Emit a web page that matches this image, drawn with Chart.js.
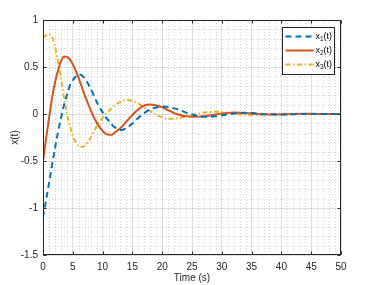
<!DOCTYPE html>
<html><head><meta charset="utf-8">
<script src="https://cdn.jsdelivr.net/npm/chart.js@4/dist/chart.umd.min.js"></script>
<style>html,body{margin:0;padding:0;background:#fff;}#wrap{position:relative;width:373px;height:285px;}</style>
</head><body><div id="wrap"><canvas id="c" width="373" height="285"></canvas></div>
<script>
// ---- data ----
const time = [0,0.5,1,1.5,2,2.5,3,3.5,4,4.5,5,5.5,6,6.5,7,7.5,8,8.5,9,9.5,10,10.5,11,11.5,12,
  13,14,15,16,17,18,19,20,21,22,23,24,25,26,27,28,29,30,31,32,33,34,35,36,37,38,39,40,42,44,46,48,50];
const x1 = [-1.10,-0.92,-0.74,-0.55,-0.37,-0.20,-0.05,0.09,0.20,0.30,0.36,0.40,0.42,0.41,0.38,0.33,0.27,0.20,0.13,0.07,0.02,-0.03,-0.07,-0.11,-0.14,
  -0.17,-0.15,-0.10,-0.04,0.01,0.05,0.07,0.08,0.075,0.06,0.04,0.015,-0.005,-0.02,-0.03,-0.03,-0.025,-0.015,-0.005,0.005,0.01,0.012,0.01,0.005,0.0,-0.003,-0.005,-0.005,-0.003,0.0,0.001,0.0,0.0];
const x2 = [-0.50,-0.27,-0.05,0.16,0.33,0.46,0.56,0.61,0.61,0.58,0.53,0.46,0.38,0.29,0.20,0.12,0.04,-0.03,-0.09,-0.14,-0.18,-0.21,-0.22,-0.22,-0.20,
  -0.15,-0.08,-0.01,0.05,0.09,0.10,0.09,0.07,0.04,0.01,-0.01,-0.025,-0.03,-0.03,-0.025,-0.015,-0.005,0.005,0.012,0.015,0.014,0.01,0.005,0.0,-0.004,-0.006,-0.006,-0.005,0.0,0.002,0.001,0.0,0.0];
const x3 = [0.81,0.84,0.85,0.82,0.72,0.56,0.38,0.18,0.01,-0.13,-0.23,-0.30,-0.34,-0.35,-0.34,-0.30,-0.25,-0.19,-0.13,-0.08,-0.04,0.0,0.03,0.06,0.09,
  0.13,0.15,0.14,0.11,0.07,0.03,-0.01,-0.035,-0.05,-0.05,-0.04,-0.025,-0.01,0.005,0.015,0.022,0.024,0.02,0.012,0.004,-0.003,-0.008,-0.01,-0.009,-0.006,-0.002,0.001,0.003,0.003,0.0,-0.001,0.0,0.0];
const seriesNames = ['x_1(t)','x_2(t)','x_3(t)'];
const xLabel = 'Time (s)';
const yLabel = 'x(t)';
const xMin = 0, xMax = 50, xMajor = 5, xMinor = 1;
const yMin = -1.5, yMax = 1, yMajor = 0.5, yMinor = 0.1;

// ---- styling ----
const FONT = "'Liberation Sans', Arial, Helvetica, sans-serif";
const AXIS = '#262626';

function pts(ys){ return time.map((t,i)=>({x:t,y:ys[i]})); }
function fmt(v){ return String(Math.round(v*10)/10); }

const matlabFrame = {
  id: 'matlabFrame',
  beforeDatasetsDraw(chart) {
    const {ctx, chartArea:a, scales:{x,y}} = chart;
    ctx.save();
    ctx.strokeStyle = 'rgba(38,38,38,0.2)';
    ctx.lineWidth = 1;
    ctx.setLineDash([1,2]);
    const nx = Math.round((xMax-xMin)/xMinor), rx = Math.round(xMajor/xMinor);
    for (let i=1;i<nx;i++){ if(i%rx===0) continue;
      const px = Math.round(x.getPixelForValue(xMin+i*xMinor))+0.5;
      ctx.beginPath(); ctx.moveTo(px,a.top); ctx.lineTo(px,a.bottom); ctx.stroke(); }
    const ny = Math.round((yMax-yMin)/yMinor), ry = Math.round(yMajor/yMinor);
    for (let i=1;i<ny;i++){ if(i%ry===0) continue;
      const py = Math.round(y.getPixelForValue(yMin+i*yMinor))+0.5;
      ctx.beginPath(); ctx.moveTo(a.left,py); ctx.lineTo(a.right,py); ctx.stroke(); }
    ctx.restore();
  },
  afterDraw(chart) {
    const {ctx, chartArea:a, scales:{x,y}} = chart;
    ctx.save();
    ctx.strokeStyle = AXIS; ctx.lineWidth = 1; ctx.setLineDash([]);
    const L=Math.round(a.left)+0.5, R=Math.round(a.right)-0.5, T=Math.round(a.top)+0.5, B=Math.round(a.bottom)-0.5;
    ctx.strokeRect(L,T,R-L,B-T);
    const tl = 3;
    ctx.beginPath();
    x.ticks.forEach(tk=>{ const px=Math.round(x.getPixelForValue(tk.value))+0.5;
      ctx.moveTo(px,B); ctx.lineTo(px,B-tl); ctx.moveTo(px,T); ctx.lineTo(px,T+tl); });
    y.ticks.forEach(tk=>{ const py=Math.round(y.getPixelForValue(tk.value))+0.5;
      ctx.moveTo(L,py); ctx.lineTo(L+tl,py); ctx.moveTo(R,py); ctx.lineTo(R-tl,py); });
    ctx.stroke();
    // legend
    const w=52, h=47, lx=Math.round(a.right-7-w)+0.5, ly=Math.round(a.top+7)+0.5;
    ctx.fillStyle='#fff'; ctx.fillRect(lx,ly,w,h);
    ctx.strokeRect(lx,ly,w,h);
    chart.data.datasets.forEach((ds,i)=>{
      const ey = ly + 9 + i*14;
      ctx.save();
      ctx.strokeStyle = ds.borderColor; ctx.lineWidth = ds.borderWidth;
      ctx.setLineDash(ds.borderDash||[]);
      ctx.beginPath(); ctx.moveTo(lx+3,ey); ctx.lineTo(lx+31,ey); ctx.stroke();
      ctx.restore();
      const m = /^(.*)_(\d)(.*)$/.exec(ds.label);
      ctx.fillStyle = '#000'; ctx.textBaseline='middle'; ctx.textAlign='left';
      let tx = lx+33;
      ctx.font = '9px '+FONT; ctx.fillText(m[1],tx,ey); tx += ctx.measureText(m[1]).width;
      ctx.font = '6.5px '+FONT; ctx.fillText(m[2],tx,ey+3); tx += ctx.measureText(m[2]).width;
      ctx.font = '9px '+FONT; ctx.fillText(m[3],tx,ey);
    });
    ctx.restore();
  }
};

new Chart(document.getElementById('c'), {
  type: 'line',
  data: { datasets: [
    {label: seriesNames[0], data: pts(x1), borderColor:'#0072BD', borderWidth:2, borderDash:[6,4]},
    {label: seriesNames[1], data: pts(x2), borderColor:'#D95319', borderWidth:2},
    {label: seriesNames[2], data: pts(x3), borderColor:'#EDB120', borderWidth:2, borderDash:[5,2.5,1.5,2.5]}
  ]},
  options: {
    responsive:false, animation:false, devicePixelRatio:1,
    layout:{padding:{top:20,right:32,left:0,bottom:0}},
    elements:{point:{radius:0}, line:{cubicInterpolationMode:'monotone', fill:false}},
    plugins:{legend:{display:false}, tooltip:{enabled:false}},
    scales:{
      x:{type:'linear', min:xMin, max:xMax,
        ticks:{stepSize:xMajor, padding:6, color:AXIS, font:{family:FONT,size:10}, maxRotation:0, callback:(v)=>fmt(v)},
        grid:{color:'rgba(38,38,38,0.15)', drawTicks:false},
        border:{display:false},
        title:{display:true, text:xLabel, color:AXIS, font:{family:FONT,size:10}, padding:{top:0,bottom:1}},
        afterFit(s){ s.height = 30; }
      },
      y:{type:'linear', min:yMin, max:yMax,
        ticks:{stepSize:yMajor, padding:5, color:AXIS, font:{family:FONT,size:10}, callback:(v)=>fmt(v)},
        grid:{color:'rgba(38,38,38,0.15)', drawTicks:false},
        border:{display:false},
        title:{display:true, text:yLabel, color:AXIS, font:{family:FONT,size:10}, padding:{top:9,bottom:0}},
        afterFit(s){ s.width = 43; }
      }
    }
  },
  plugins:[matlabFrame]
});
</script></body></html>
